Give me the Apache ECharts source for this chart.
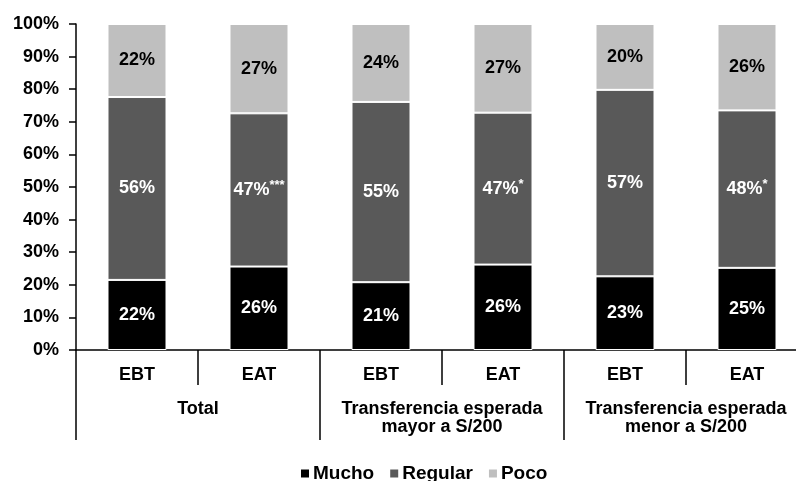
<!DOCTYPE html>
<html>
<head>
<meta charset="utf-8">
<script src="https://cdn.jsdelivr.net/npm/echarts@6/dist/echarts.min.js"></script>
<style>
html,body{margin:0;padding:0;background:#fff;overflow:hidden;}
#chart{width:808px;height:481px;}
</style>
</head>
<body>
<div id="chart"></div>
<script>
// categorias
let subCats=["EBT","EAT","EBT","EAT","EBT","EAT"];
let groupCats=["Total","Transferencia esperada\nmayor a S/200","Transferencia esperada\nmenor a S/200"];

// valores (%)
let mucho=[21.5,25.6,20.8,26.2,22.6,25.2];
let regular=[56.1,47.0,55.3,46.6,57.2,48.3];
let poco=[22.4,27.4,23.9,27.2,20.2,26.5];

// etiquetas tal cual en el grafico
let muchoLbl=["22%","26%","21%","26%","23%","25%"];
let regularLbl=["56%","47%***","55%","47%*","57%","48%*"];
let pocoLbl=["22%","27%","24%","27%","20%","26%"];

let font="'Liberation Sans', Arial, sans-serif";

function lbl(texts,color){
    return {
        show:true,
        position:"inside",
        formatter:function(p){
            let t=texts[p.dataIndex];
            let i=t.indexOf("*");
            if(i<0) return "{a|"+t+"}";
            return "{a|"+t.slice(0,i)+"}{s|"+t.slice(i)+"}";
        },
        rich:{
            a:{color:color,fontFamily:font,fontWeight:"bold",fontSize:18,lineHeight:22},
            s:{color:color,fontFamily:font,fontWeight:"bold",fontSize:13,lineHeight:22,verticalAlign:"top",padding:[0,0,5,0]}
        }
    };
}

// el grafico original queda cortado a la derecha, por eso el div es mas ancho que la ventana
let myChart=echarts.init(document.getElementById("chart"));
let option={
    animation:false,
    grid:{left:76,right:0,top:24,bottom:131},
    legend:{
        data:["Mucho","Regular","Poco"],
        left:294,
        top:459,
        icon:"rect",
        itemWidth:10,
        itemHeight:10,
        itemGap:14,
        textStyle:{fontFamily:font,fontWeight:"bold",fontSize:19,color:"#000",padding:[0,0,0,-2]}
    },
    xAxis:[{
        type:"category",
        data:subCats,
        axisLine:{show:true,lineStyle:{color:"#000",width:1.5}},
        axisTick:{show:true,inside:false,length:35,interval:0,lineStyle:{color:"#000",width:1.5}},
        axisLabel:{margin:16,interval:0,color:"#000",fontFamily:font,fontWeight:"bold",fontSize:18}
    },{
        type:"category",
        data:groupCats,
        position:"bottom",
        axisLine:{show:false},
        axisTick:{show:true,inside:false,length:90,interval:0,lineStyle:{color:"#000",width:1.5}},
        axisLabel:{margin:50,interval:0,verticalAlign:"top",lineHeight:18,color:"#000",fontFamily:font,fontWeight:"bold",fontSize:18}
    }],
    yAxis:{
        type:"value",
        min:0,
        max:100,
        interval:10,
        axisLine:{show:true,lineStyle:{color:"#000",width:1.5}},
        axisTick:{show:true,inside:false,length:7,lineStyle:{color:"#000",width:1.5}},
        splitLine:{show:false},
        axisLabel:{formatter:"{value}%",margin:17,color:"#000",fontFamily:font,fontWeight:"bold",fontSize:18}
    },
    series:[{
        name:"Mucho",type:"bar",stack:"t",data:mucho,barWidth:59,
        itemStyle:{color:"#000000",borderColor:"#fff",borderWidth:1},
        label:lbl(muchoLbl,"#fff")
    },{
        name:"Regular",type:"bar",stack:"t",data:regular,barWidth:59,
        itemStyle:{color:"#595959",borderColor:"#fff",borderWidth:1},
        label:lbl(regularLbl,"#fff")
    },{
        name:"Poco",type:"bar",stack:"t",data:poco,barWidth:59,
        itemStyle:{color:"#bfbfbf",borderColor:"#fff",borderWidth:1},
        label:lbl(pocoLbl,"#000")
    }]
};
myChart.setOption(option);
</script>
</body>
</html>
